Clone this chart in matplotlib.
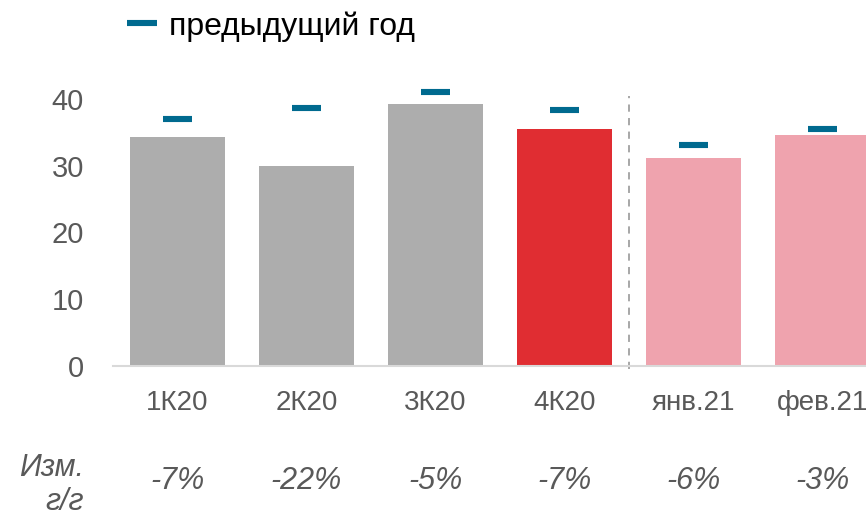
import matplotlib
matplotlib.use("Agg")
import matplotlib.pyplot as plt
import matplotlib.transforms as mtransforms
import numpy as np

categories = ["1К20", "2К20", "3К20", "4К20", "янв.21", "фев.21"]
values = [34.3, 30.0, 39.2, 35.5, 31.1, 34.6]
prev_year = [37.0, 38.6, 41.0, 38.3, 33.1, 35.5]
yoy_labels = ["-7%", "-22%", "-5%", "-7%", "-6%", "-3%"]
bar_colors = ["#ADADAD", "#ADADAD", "#ADADAD", "#E02D32", "#EFA3AE", "#EFA3AE"]
yticks = [0, 10, 20, 30, 40]
legend_label = "предыдущий год"
yoy_title = "Изм.\nг/г"

plt.rcParams['font.family'] = ['Liberation Sans', 'DejaVu Sans']

W, H = 866, 512
fig = plt.figure(figsize=(W / 100, H / 100), dpi=100)
ax_left = 113 / W
ax_bottom = 1 - 366 / H
ymax = 45
ax_height = ymax * 6.68 / H
ax = fig.add_axes([ax_left, ax_bottom, 1 - ax_left, ax_height])

x = np.arange(len(categories))
ax.bar(x, values, width=0.735, color=bar_colors, zorder=2)
ax.hlines(prev_year, x - 0.116, x + 0.116, colors="#006A8F", linewidth=4.4,
          zorder=3, label=legend_label)

# separator between quarters and months
ax.plot([3.5, 3.5], [-0.4, 40.4], color="#A0A0A0", linewidth=1.3,
        linestyle=(0, (4, 3.5)), clip_on=False, zorder=1)

ax.set_xlim(-0.5, (W - 113) / 129 - 0.5)
ax.set_ylim(0, ymax)
ax.set_xticks(x)
ax.set_xticklabels(categories)
ax.set_yticks(yticks)
ax.tick_params(axis='x', length=0, pad=17, labelsize=20, colors="#595959")
ax.tick_params(axis='y', length=0, pad=21, labelsize=21, colors="#595959")
for s in ["top", "right", "left"]:
    ax.spines[s].set_visible(False)
ax.spines["bottom"].set_color("#D9D9D9")
ax.spines["bottom"].set_linewidth(1.5)

# year-over-year change row
trans = mtransforms.blended_transform_factory(ax.transData, fig.transFigure)
for xi, lab in zip(x, yoy_labels):
    ax.text(xi, 1 - 481 / H, lab, transform=trans, ha="center", va="center",
            fontsize=22, style="italic", color="#595959", clip_on=False)
fig.text(84 / W, 1 - 485 / H, yoy_title, ha="right", va="center",
         fontsize=22, style="italic", color="#595959", linespacing=1.15)

leg = ax.legend(loc="upper left", bbox_to_anchor=(127 / W, 1 - 11 / H),
                bbox_transform=fig.transFigure, frameon=False, fontsize=23,
                handlelength=0.95, handletextpad=0.35, borderpad=0,
                borderaxespad=0)
for t in leg.get_texts():
    t.set_color("#000000")

fig.savefig("out.png", dpi=100)
